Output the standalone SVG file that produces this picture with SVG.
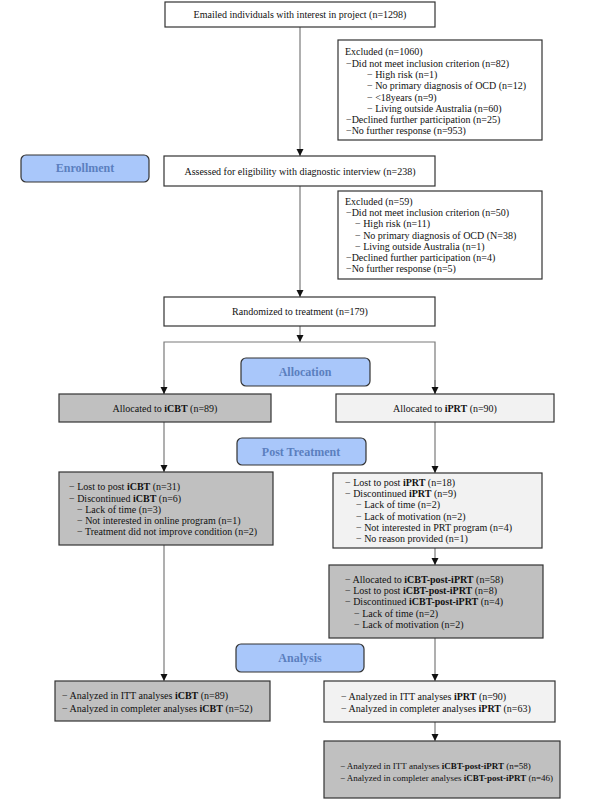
<svg xmlns="http://www.w3.org/2000/svg" width="615" height="800" viewBox="0 0 615 800">
<defs>
<marker id="arr" markerWidth="8" markerHeight="8" refX="7" refY="4" orient="auto" markerUnits="userSpaceOnUse">
<path d="M0,0.5 L7,4 L0,7.5 Z" fill="#111"/>
</marker>
<style>
.box{stroke:#333;stroke-width:1.2}
.w{fill:#fff}
.g{fill:#c0c0c0}
.l{fill:#f2f2f2}
.pill{fill:#a9c7fa;stroke:#333;stroke-width:1.2}
.pt{font-family:"Liberation Serif","Times New Roman",serif;font-size:12px;font-weight:bold;fill:#5b7fbf;text-anchor:middle}
text{font-family:"Liberation Serif","Times New Roman",serif;font-size:10px;fill:#111}
.c{text-anchor:middle}
.b{font-weight:bold}
.s{font-size:9px}
.conn line,.conn path{stroke:#7a7a7a;stroke-width:1.2;fill:none}
</style>
</defs>
<rect width="615" height="800" fill="#fff"/>

<g class="conn">
<line x1="300" y1="27" x2="300" y2="156" marker-end="url(#arr)"/>
<line x1="300" y1="186" x2="300" y2="297" marker-end="url(#arr)"/>
<line x1="300" y1="326" x2="300" y2="342" marker-end="url(#arr)"/>
<path d="M164,394 V342 H435 V394"/>
<line x1="164" y1="380" x2="164" y2="394" marker-end="url(#arr)"/>
<line x1="435" y1="380" x2="435" y2="394" marker-end="url(#arr)"/>
<line x1="164" y1="422" x2="164" y2="472" marker-end="url(#arr)"/>
<line x1="435" y1="422" x2="435" y2="473" marker-end="url(#arr)"/>
<line x1="164" y1="545" x2="164" y2="681" marker-end="url(#arr)"/>
<line x1="435" y1="548" x2="435" y2="565" marker-end="url(#arr)"/>
<line x1="435" y1="638" x2="435" y2="681" marker-end="url(#arr)"/>
<line x1="435" y1="722" x2="435" y2="741" marker-end="url(#arr)"/>
</g>

<g id="emailed">
<rect class="box w" x="165" y="2" width="270" height="25"/>
<text class="c" x="300" y="18">Emailed individuals with interest in project (n=1298)</text>
</g>

<g id="excluded1">
<rect class="box w" x="338" y="40" width="204" height="100"/>
<text x="345" y="55">Excluded (n=1060)</text>
<text x="346" y="67">−Did not meet inclusion criterion (n=82)</text>
<text x="367" y="78.2">− High risk (n=1)</text>
<text x="367" y="89.4">− No primary diagnosis of OCD (n=12)</text>
<text x="367" y="100.6">− &lt;18years (n=9)</text>
<text x="367" y="111.8">− Living outside Australia (n=60)</text>
<text x="346" y="123">−Declined further participation (n=25)</text>
<text x="346" y="134.2">−No further response (n=953)</text>
</g>

<g id="enrollment">
<rect class="pill" x="21" y="155" width="128" height="27" rx="5"/>
<text class="pt" x="85" y="172">Enrollment</text>
</g>

<g id="assessed">
<rect class="box w" x="164" y="156" width="271" height="30"/>
<text class="c" x="300" y="175">Assessed for eligibility with diagnostic interview (n=238)</text>
</g>

<g id="excluded2">
<rect class="box w" x="338" y="191" width="204" height="88"/>
<text x="345" y="205">Excluded (n=59)</text>
<text x="346" y="216.2">−Did not meet inclusion criterion (n=50)</text>
<text x="355" y="227.4">− High risk (n=11)</text>
<text x="355" y="238.6">− No primary diagnosis of OCD (N=38)</text>
<text x="355" y="249.8">− Living outside Australia (n=1)</text>
<text x="346" y="261">−Declined further participation (n=4)</text>
<text x="346" y="272.2">−No further response (n=5)</text>
</g>

<g id="randomized">
<rect class="box w" x="164" y="297" width="271" height="29"/>
<text class="c" x="300" y="315">Randomized to treatment (n=179)</text>
</g>

<g id="allocation">
<rect class="pill" x="241" y="358" width="129" height="28" rx="5"/>
<text class="pt" x="305" y="376">Allocation</text>
</g>

<g id="alloc-icbt">
<rect class="box g" x="59" y="394" width="212" height="28"/>
<text class="c" x="165" y="412">Allocated to <tspan class="b">iCBT</tspan> (n=89)</text>
</g>

<g id="alloc-iprt">
<rect class="box l" x="336" y="394" width="218" height="28"/>
<text class="c" x="445" y="412">Allocated to <tspan class="b">iPRT</tspan> (n=90)</text>
</g>

<g id="post-treatment">
<rect class="pill" x="237" y="438" width="129" height="27" rx="5"/>
<text class="pt" x="301" y="456">Post Treatment</text>
</g>

<g id="post-icbt">
<rect class="box g" x="59" y="472" width="214" height="73"/>
<text x="69" y="490">− Lost to post <tspan class="b">iCBT</tspan> (n=31)</text>
<text x="69" y="501.5">− Discontinued <tspan class="b">iCBT</tspan> (n=6)</text>
<text x="77" y="512.7">− Lack of time (n=3)</text>
<text x="77" y="523.9">− Not interested in online program (n=1)</text>
<text x="77" y="535.1">− Treatment did not improve condition (n=2)</text>
</g>

<g id="post-iprt">
<rect class="box l" x="333" y="473" width="209" height="75"/>
<text x="345" y="486">− Lost to post <tspan class="b">iPRT</tspan> (n=18)</text>
<text x="345" y="497.2">− Discontinued <tspan class="b">iPRT</tspan> (n=9)</text>
<text x="356" y="508.4">− Lack of time (n=2)</text>
<text x="356" y="519.6">− Lack of motivation (n=2)</text>
<text x="356" y="530.8">− Not interested in PRT program (n=4)</text>
<text x="356" y="542">− No reason provided (n=1)</text>
</g>

<g id="post-icbt-post-iprt">
<rect class="box g" x="329" y="565" width="214" height="73"/>
<text x="345" y="583">− Allocated to <tspan class="b">iCBT-post-iPRT</tspan> (n=58)</text>
<text x="345" y="594.2">− Lost to post <tspan class="b">iCBT-post-iPRT</tspan> (n=8)</text>
<text x="345" y="605.4">− Discontinued <tspan class="b">iCBT-post-iPRT</tspan> (n=4)</text>
<text x="354" y="616.6">− Lack of time (n=2)</text>
<text x="354" y="627.8">− Lack of motivation (n=2)</text>
</g>

<g id="analysis">
<rect class="pill" x="236" y="644" width="128" height="28" rx="5"/>
<text class="pt" x="300" y="662">Analysis</text>
</g>

<g id="analysis-icbt">
<rect class="box g" x="55" y="681" width="215" height="40"/>
<text x="62" y="699">− Analyzed in ITT analyses <tspan class="b">iCBT</tspan> (n=89)</text>
<text x="62" y="712">− Analyzed in completer analyses <tspan class="b">iCBT</tspan> (n=52)</text>
</g>

<g id="analysis-iprt">
<rect class="box l" x="324" y="681" width="231" height="41"/>
<text x="341" y="700">− Analyzed in ITT analyses <tspan class="b">iPRT</tspan> (n=90)</text>
<text x="341" y="712">− Analyzed in completer analyses <tspan class="b">iPRT</tspan> (n=63)</text>
</g>

<g id="analysis-icbt-post-iprt">
<rect class="box g" x="324" y="741" width="236" height="57"/>
<text class="s" x="340" y="769">− Analyzed in ITT analyses <tspan class="b">iCBT-post-iPRT</tspan> (n=58)</text>
<text class="s" x="340" y="780.5">− Analyzed in completer analyses <tspan class="b">iCBT-post-iPRT</tspan> (n=46)</text>
</g>
</svg>
